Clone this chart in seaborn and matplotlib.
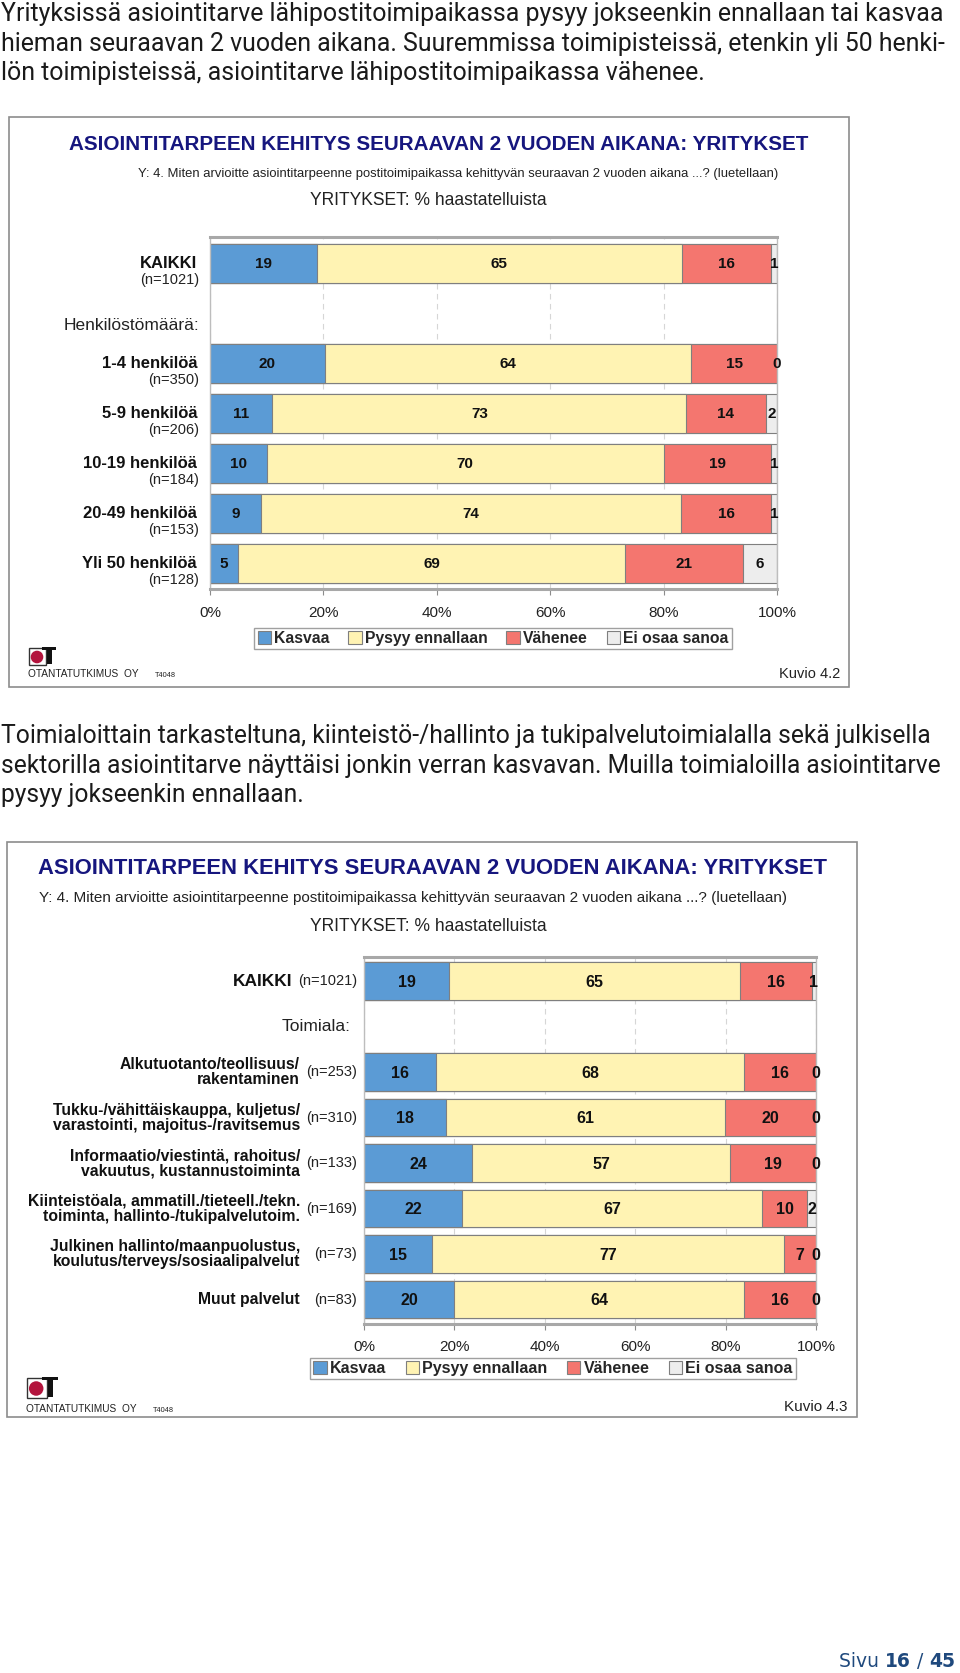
import numpy as np
import pandas as pd
import matplotlib
matplotlib.use('Agg')
import matplotlib.pyplot as plt
import matplotlib.transforms as mtransforms
from matplotlib.patches import Rectangle, Circle, Patch
import seaborn as sns

# Kuvio 4.2: henkilöstömäärän mukaan
ryhmat_1 = ['KAIKKI', '1-4 henkilöä', '5-9 henkilöä', '10-19 henkilöä', '20-49 henkilöä', 'Yli 50 henkilöä']
n_1 = [1021, 350, 206, 184, 153, 128]
kasvaa_1 = [19, 20, 11, 10, 9, 5]
pysyy_1 = [65, 64, 73, 70, 74, 69]
vahenee_1 = [16, 15, 14, 19, 16, 21]
eos_1 = [1, 0, 2, 1, 1, 6]

# Kuvio 4.3: toimialan mukaan
ryhmat_2 = ['KAIKKI',
            'Alkutuotanto/teollisuus/\nrakentaminen',
            'Tukku-/vähittäiskauppa, kuljetus/\nvarastointi, majoitus-/ravitsemus',
            'Informaatio/viestintä, rahoitus/\nvakuutus, kustannustoiminta',
            'Kiinteistöala, ammatill./tieteell./tekn.\ntoiminta, hallinto-/tukipalvelutoim.',
            'Julkinen hallinto/maanpuolustus,\nkoulutus/terveys/sosiaalipalvelut',
            'Muut palvelut']
n_2 = [1021, 253, 310, 133, 169, 73, 83]
kasvaa_2 = [19, 16, 18, 24, 22, 15, 20]
pysyy_2 = [65, 68, 61, 57, 67, 77, 64]
vahenee_2 = [16, 16, 20, 19, 10, 7, 16]
eos_2 = [1, 0, 0, 0, 2, 0, 0]

sarjat = ['Kasvaa', 'Pysyy ennallaan', 'Vähenee', 'Ei osaa sanoa']
varit = ['#5b9bd5', '#fff3b3', '#f4766f', '#ededed']
x_ticks = [0, 20, 40, 60, 80, 100]
x_labels = ['0%', '20%', '40%', '60%', '80%', '100%']

otsikko = 'ASIOINTITARPEEN KEHITYS SEURAAVAN 2 VUODEN AIKANA: YRITYKSET'
kysymys = 'Y: 4. Miten arvioitte asiointitarpeenne postitoimipaikassa kehittyvän seuraavan 2 vuoden aikana ...? (luetellaan)'
pohja = 'YRITYKSET: % haastatelluista'

kappale_1 = ['Yrityksissä asiointitarve lähipostitoimipaikassa pysyy jokseenkin ennallaan tai kasvaa',
             'hieman seuraavan 2 vuoden aikana. Suuremmissa toimipisteissä, etenkin yli 50 henki-',
             'lön toimipisteissä, asiointitarve lähipostitoimipaikassa vähenee.']
kappale_2 = ['Toimialoittain tarkasteltuna, kiinteistö-/hallinto ja tukipalvelutoimialalla sekä julkisella',
             'sektorilla asiointitarve näyttäisi jonkin verran kasvavan. Muilla toimialoilla asiointitarve',
             'pysyy jokseenkin ennallaan.']
# kahden ensimmäisen rivin leveydet kuvasta (px)
leveydet_1 = [944, 944]
leveydet_2 = [930, 943]

sns.set_theme(style='white')
KAPEA = ['Liberation Sans Narrow', 'Liberation Sans', 'DejaVu Sans']
plt.rcParams['font.family'] = KAPEA
LEIPA = ['Roboto', 'DejaVu Sans']
SIVU = ['DejaVu Sans']

W, H = 960, 1673
fig = plt.figure(figsize=(W / 100, H / 100), dpi=100)
fig.patch.set_facecolor('white')
renderer = fig.canvas.get_renderer()

# taustakerros pikselikoordinaateissa
bg = fig.add_axes([0, 0, 1, 1], zorder=-1)
bg.set_xlim(0, W)
bg.set_ylim(H, 0)
bg.axis('off')


def sovita(t, leveys):
    w = t.get_window_extent(renderer).width
    t.set_fontsize(t.get_fontsize() * leveys / w)


def kappale(rivit, leveydet, y0, vali):
    tekstit = [bg.text(1, y0 + i * vali, r, family=LEIPA, fontsize=16, color='#1a1a1a',
                       ha='left', va='center') for i, r in enumerate(rivit)]
    kertoimet = [l / t.get_window_extent(renderer).width for t, l in zip(tekstit, leveydet)]
    koko = 16 * min(kertoimet)
    for t in tekstit:
        t.set_fontsize(koko)


def logo(x0, y0, s, nimi_y, koodi_x):
    bg.add_patch(Rectangle((x0, y0 + 1 * s), 17 * s, 17 * s, facecolor='white', edgecolor='#333333', lw=1))
    bg.add_patch(Circle((x0 + 8 * s, y0 + 10 * s), 6.3 * s, facecolor='#b3143d', edgecolor='none'))
    bg.add_patch(Rectangle((x0 + 13 * s, y0), 14 * s, 3 * s, facecolor='#111111', edgecolor='none'))
    bg.add_patch(Rectangle((x0 + 18 * s, y0), 5 * s, 17 * s, facecolor='#111111', edgecolor='none'))
    bg.text(x0 - 1, nimi_y, 'OTANTATUTKIMUS  OY', family=['Liberation Sans', 'DejaVu Sans'],
            fontsize=7.3, color='#222222', ha='left', va='center')
    bg.text(koodi_x, nimi_y + 1, 'T4048', family=['Liberation Sans', 'DejaVu Sans'],
            fontsize=5.3, color='#222222', ha='left', va='center')


def pylvaat(ax, ryhmat, valiotsikko, arvot, leveys, arvo_koko, reuna):
    jarjestys = [ryhmat[0], valiotsikko] + ryhmat[1:]
    df = pd.DataFrame(dict(zip(sarjat, arvot)), index=ryhmat)
    osuus = df.div(df.sum(axis=1), axis=0) * 100
    kertyma = osuus.cumsum(axis=1)
    # pinotut palkit: kertymät piirretään suurimmasta pienimpään
    for sarja, vari in reversed(list(zip(sarjat, varit))):
        sns.barplot(x=kertyma[sarja].values, y=ryhmat, order=jarjestys, orient='h',
                    color=vari, saturation=1, width=leveys, errorbar=None,
                    edgecolor='#7f7f7f', linewidth=0.8, ax=ax)
    for g in ryhmat:
        y = jarjestys.index(g)
        alku = 0
        for sarja in sarjat:
            o = osuus.loc[g, sarja]
            ax.text(alku + o / 2, y + 0.02, str(df.loc[g, sarja]), ha='center', va='center',
                    fontsize=arvo_koko, fontweight='bold', color='#111111')
            alku += o
    ax.set_xlim(0, 100)
    ax.set_ylim(len(jarjestys) - 1 + reuna, -reuna)
    ax.set_xticks(x_ticks)
    ax.set_xticklabels(x_labels)
    ax.set_xlabel('')
    ax.set_ylabel('')
    ax.tick_params(axis='y', left=False, labelleft=False)
    ax.tick_params(axis='x', bottom=True, direction='out', length=4, width=0.8,
                   color='#8c8c8c', pad=8, labelsize=11, labelcolor='#222222')
    ax.grid(axis='x', color='#d6d6d6', linestyle=(0, (5, 4)), lw=0.8)
    ax.set_axisbelow(True)
    for k in ['top', 'bottom']:
        ax.spines[k].set_color('#a8a8a8')
        ax.spines[k].set_linewidth(2.2)
    for k in ['left', 'right']:
        ax.spines[k].set_color('#bdbdbd')
        ax.spines[k].set_linewidth(1)
    return jarjestys


def selite(ax, x, y, koko):
    kahvat = [Patch(facecolor=c, edgecolor='#7f7f7f', lw=0.8) for c in varit]
    leg = ax.legend(kahvat, sarjat, ncol=4, loc='center', bbox_to_anchor=(x / W, 1 - y / H),
                    bbox_transform=fig.transFigure, prop={'weight': 'bold', 'size': koko},
                    frameon=True, fancybox=False, framealpha=1, edgecolor='#a0a0a0',
                    borderpad=0.2, handlelength=0.85, handleheight=0.85, handletextpad=0.2,
                    columnspacing=1.2)
    leg.get_frame().set_linewidth(1)


def otsikot(y_ots, x_ots, w_ots, y_kys, x_kys, w_kys, y_pohja):
    t = bg.text(x_ots, y_ots, otsikko, fontsize=16, fontweight='bold', color='#16167e',
                ha='center', va='center')
    sovita(t, w_ots)
    t = bg.text(x_kys, y_kys, kysymys, fontsize=11, color='#222222', ha='center', va='center')
    sovita(t, w_kys)
    t = bg.text(428, y_pohja, pohja, fontsize=12, color='#222222', ha='center', va='center')
    sovita(t, 238)


# ---------------- sivun teksti 1
kappale(kappale_1, leveydet_1, 14, 29.5)

# ---------------- kuvio 4.2
bg.add_patch(Rectangle((9, 117), 840, 570, fill=False, edgecolor='#8c8c8c', lw=1.2))
otsikot(144, 439, 744, 174, 458, 638, 200)

ax1 = fig.add_axes([210 / W, 1 - 589.3 / H, (777 - 210) / W, (589.3 - 237.3) / H])
jarj_1 = pylvaat(ax1, ryhmat_1, 'Henkilöstömäärä:', [kasvaa_1, pysyy_1, vahenee_1, eos_1],
                 0.79, 11, 0.52)
tr1 = mtransforms.blended_transform_factory(bg.transData, ax1.transData)
for g, n in zip(ryhmat_1, n_1):
    y = jarj_1.index(g)
    ax1.text(197, y, g, transform=tr1, ha='right', va='center', fontsize=12,
             fontweight='bold', color='#111111')
    ax1.text(199, y + 0.34, f'(n={n})', transform=tr1, ha='right', va='center',
             fontsize=10.5, color='#222222')
ax1.text(199, jarj_1.index('Henkilöstömäärä:') + 0.25, 'Henkilöstömäärä:', transform=tr1,
         ha='right', va='center', fontsize=12.5, color='#222222')
selite(ax1, 493, 638.5, 11.3)
logo(29, 647, 1.0, 674, 155)
bg.text(840, 674, 'Kuvio 4.2', fontsize=10.5, color='#222222', ha='right', va='center')

# ---------------- sivun teksti 2
kappale(kappale_2, leveydet_2, 736, 29.5)

# ---------------- kuvio 4.3
bg.add_patch(Rectangle((7, 842), 850, 575, fill=False, edgecolor='#8c8c8c', lw=1.2))
otsikot(868, 433, 791, 898, 413, 748, 926)

ax2 = fig.add_axes([364 / W, 1 - 1323.7 / H, (816 - 364) / W, (1323.7 - 957) / H])
jarj_2 = pylvaat(ax2, ryhmat_2, 'Toimiala:', [kasvaa_2, pysyy_2, vahenee_2, eos_2],
                 0.83, 11.5, 0.53)
tr2 = mtransforms.blended_transform_factory(bg.transData, ax2.transData)
for g, n in zip(ryhmat_2, n_2):
    y = jarj_2.index(g)
    if g == 'KAIKKI':
        ax2.text(292, y, g, transform=tr2, ha='right', va='center', fontsize=12.5,
                 fontweight='bold', color='#111111')
    else:
        ax2.text(300, y, g, transform=tr2, ha='right', va='center', fontsize=11.3,
                 fontweight='bold', color='#111111', linespacing=1.0, multialignment='right')
    ax2.text(357, y, f'(n={n})', transform=tr2, ha='right', va='center',
             fontsize=10.5, color='#222222')
ax2.text(351, jarj_2.index('Toimiala:'), 'Toimiala:', transform=tr2,
         ha='right', va='center', fontsize=12.5, color='#222222')
selite(ax2, 553, 1368.5, 11.5)
logo(27, 1377, 1.15, 1409, 153)
bg.text(848, 1407, 'Kuvio 4.3', fontsize=11, color='#222222', ha='right', va='center')

# ---------------- sivunumero
sivu = ['Sivu ', '16', ' / ', '45']
paino = ['normal', 'bold', 'normal', 'bold']
edellinen = bg.text(839, 1667, sivu[0], family=SIVU, fontsize=13.5, color='#1f497d',
                    ha='left', va='baseline')
for s, p in zip(sivu[1:], paino[1:]):
    edellinen = bg.annotate(s, xy=(1, 0), xycoords=edellinen, family=SIVU, fontsize=13.5,
                            fontweight=p, color='#1f497d', ha='left', va='bottom')

fig.savefig('out.png', dpi=100, facecolor='white')
